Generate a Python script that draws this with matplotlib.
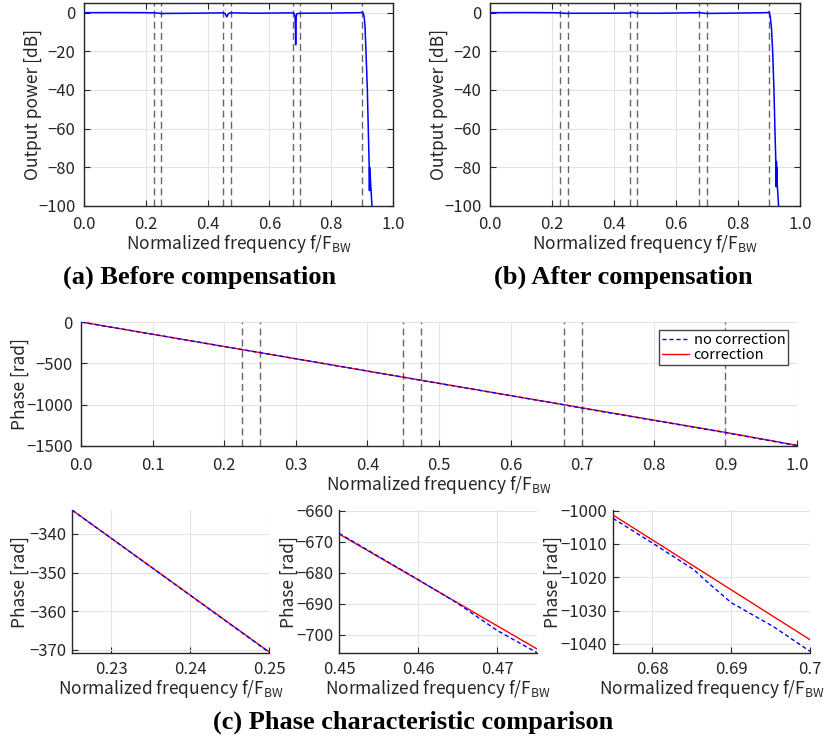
import numpy as np
import matplotlib
matplotlib.use('Agg')
import matplotlib.pyplot as plt

#-- fonts --
plt.rcParams['font.family'] = ['Noto Sans CJK JP', 'DejaVu Sans']
plt.rcParams['mathtext.fontset'] = 'custom'
plt.rcParams['mathtext.rm'] = 'Noto Sans CJK JP'
plt.rcParams['axes.unicode_minus'] = True

#-- data --
# band edges (dashed markers)
f_edges = [0.225, 0.25, 0.45, 0.475, 0.675, 0.7, 0.9]

# (a) output power before compensation
f_pow_a = [0.0, 0.1, 0.2, 0.225, 0.24, 0.25, 0.26, 0.35, 0.45, 0.456, 0.459, 0.462, 0.465, 0.468,
           0.475, 0.55, 0.675, 0.681, 0.683, 0.684, 0.685, 0.686, 0.687, 0.689, 0.7, 0.8, 0.895,
           0.902, 0.906, 0.909, 0.9126, 0.917, 0.920, 0.923, 0.9238, 0.9245, 0.925, 0.9255, 0.926,
           0.9265, 0.932]
p_a = [0.0, 0.05, 0.0, -0.1, -0.2, -0.5, -0.4, -0.3, -0.1, -0.4, -1.2, -2.2, -1.2, -0.4,
       -0.1, -0.3, -0.1, -0.5, -2.0, -6.0, -16.6, -6.0, -2.0, -0.5, -0.3, -0.2, 0.0,
       0.3, -1.5, -6.0, -20.0, -40.0, -60.0, -80.0, -92.0, -80.0, -90.0, -83.0, -88.0,
       -85.0, -100.0]

# (b) output power after compensation
f_pow_b = [0.0, 0.1, 0.2, 0.225, 0.25, 0.26, 0.35, 0.45, 0.46, 0.475, 0.55, 0.675, 0.7, 0.8,
           0.893, 0.9, 0.904, 0.908, 0.9118, 0.916, 0.919, 0.9226, 0.9232, 0.924, 0.9245, 0.925,
           0.9255, 0.931]
p_b = [0.0, 0.05, 0.0, -0.1, -0.4, -0.3, -0.3, -0.2, 0.2, -0.3, -0.3, 0.0, -0.4, -0.2,
       0.0, 0.3, -2.0, -8.0, -20.0, -40.0, -60.0, -80.0, -90.0, -77.0, -88.0, -80.0,
       -86.0, -100.0]

# (c) phase
f_ph = [0.0, 0.225, 0.25, 0.45, 0.475, 0.675, 0.7, 0.9, 1.0]
ph_corr = [0.0, -333.8, -370.5, -667.5, -704.5, -1001.3, -1038.7, -1335.0, -1492.0]
ph_nocorr = [0.0, -333.8, -370.6, -667.3, -705.7, -1002.3, -1042.2, -1338.0, -1495.0]

# zooms
f_z1 = [0.225, 0.25]
ph_z1_corr = [-333.8, -370.5]
ph_z1_nocorr = [-333.8, -370.6]
f_z2_corr = [0.45, 0.475]
ph_z2_corr = [-667.5, -704.5]
f_z2_nocorr = [0.45, 0.46, 0.4649, 0.47, 0.475]
ph_z2_nocorr = [-667.3, -682.2, -689.7, -698.6, -705.7]
f_z3_corr = [0.675, 0.7]
ph_z3_corr = [-1001.3, -1038.7]
f_z3_nocorr = [0.675, 0.68, 0.6852, 0.6873, 0.69, 0.6953, 0.7]
ph_z3_nocorr = [-1002.3, -1009.7, -1017.6, -1022.1, -1027.6, -1034.7, -1042.2]

#-- style --
W, H = 827., 744.
fs_tick = 12
fs_lab = 12.5
c_axis = '#262626'
c_grid = '#e3e3e3'
c_dash = '#666666'
xlab = r'Normalized frequency f/$\mathrm{F_{BW}}$'


def px_axes(fig, l, r, t, b):
    return fig.add_axes([l/W, 1-b/H, (r-l)/W, (b-t)/H])


def style(ax, box=True, xpad=5, ypad=5):
    ax.grid(True, color=c_grid, lw=0.8)
    ax.set_axisbelow(True)
    for s in ax.spines.values():
        s.set_color(c_axis)
        s.set_linewidth(1.0)
    if not box:
        ax.spines['top'].set_visible(False)
        ax.spines['right'].set_visible(False)
    ax.tick_params(direction='in', length=4, width=0.8, colors=c_axis,
                   labelsize=fs_tick, top=box, right=box, labelcolor='#262626')
    ax.tick_params(axis='x', pad=xpad)
    ax.tick_params(axis='y', pad=ypad)


def edges(ax):
    for fe in f_edges:
        ax.axvline(fe, color=c_dash, lw=1.0, ls=(0, (5, 3)), zorder=1)


fig = plt.figure(figsize=(W/100, H/100), dpi=100)

#-- (a) and (b) --
for l, r, fp, pp in [(84, 393, f_pow_a, p_a), (490, 800, f_pow_b, p_b)]:
    ax = px_axes(fig, l, r, 3, 206)
    style(ax, xpad=7, ypad=6)
    edges(ax)
    ax.plot(fp, pp, color='#0000ff', lw=1.1, zorder=3)
    ax.set_xlim(0, 1)
    ax.set_ylim(-100, 5)
    ax.set_xticks(np.arange(0, 1.01, 0.2))
    ax.set_xticklabels(['%.1f' % v for v in np.arange(0, 1.01, 0.2)])
    ax.set_yticks([0, -20, -40, -60, -80, -100])
    ax.set_xlabel(xlab, fontsize=fs_lab, color='#262626', labelpad=0)
    ax.set_ylabel('Output power [dB]', fontsize=fs_lab, color='#262626', labelpad=-3)

#-- (c) main --
ax = px_axes(fig, 81, 797, 322, 446)
style(ax, box=False, xpad=8, ypad=6)
edges(ax)
ax.plot(f_ph, ph_corr, color='#ff0000', lw=1.0, label='correction', zorder=3)
ax.plot(f_ph, ph_nocorr, color='#0000ff', lw=1.0, ls=(0, (3, 2)), label='no correction', zorder=4)
h, lb = ax.get_legend_handles_labels()
ax.set_xlim(0, 1)
ax.set_ylim(-1500, 0)
ax.set_xticks(np.arange(0, 1.01, 0.1))
ax.set_xticklabels(['%.1f' % v for v in np.arange(0, 1.01, 0.1)])
ax.set_yticks([0, -500, -1000, -1500])
ax.set_xlabel(xlab, fontsize=fs_lab, color='#262626', labelpad=0)
ax.set_ylabel('Phase [rad]', fontsize=fs_lab, color='#262626', labelpad=-2)
leg = ax.legend(h[::-1], lb[::-1], loc='upper right', bbox_to_anchor=(0.988, 0.935), fontsize=10.5,
                frameon=True, fancybox=False, edgecolor='#444444', framealpha=1,
                handlelength=1.9, handletextpad=0.3, borderpad=0.2, labelspacing=0.05,
                borderaxespad=0)
leg.get_frame().set_linewidth(1.0)

#-- (c) zooms --
zooms = [
    (72, 269, f_z1, ph_z1_nocorr, f_z1, ph_z1_corr, (0.225, 0.25), (-370.8, -333.8),
     [0.23, 0.24, 0.25], ['0.23', '0.24', '0.25'], [-340, -350, -360, -370], 0),
    (339, 537, f_z2_nocorr, ph_z2_nocorr, f_z2_corr, ph_z2_corr, (0.45, 0.475), (-705.8, -659.8),
     [0.45, 0.46, 0.47], ['0.45', '0.46', '0.47'], [-660, -670, -680, -690, -700], -1),
    (613, 810, f_z3_nocorr, ph_z3_nocorr, f_z3_corr, ph_z3_corr, (0.675, 0.7), (-1042.7, -999.8),
     [0.68, 0.69, 0.7], ['0.68', '0.69', '0.7'], [-1000, -1010, -1020, -1030, -1040], -1),
]
for l, r, fb, pb, fr, pr, xl, yl, xt, xtl, yt, ylp in zooms:
    ax = px_axes(fig, l, r, 510, 653)
    style(ax, box=False, xpad=6, ypad=4)
    ax.plot(fr, pr, color='#ff0000', lw=1.0, zorder=3)
    ax.plot(fb, pb, color='#0000ff', lw=1.0, ls=(0, (3, 2)), zorder=4)
    ax.set_xlim(*xl)
    ax.set_ylim(*yl)
    ax.set_xticks(xt)
    ax.set_xticklabels(xtl)
    ax.set_yticks(yt)
    ax.set_xlabel(xlab, fontsize=fs_lab, color='#262626', labelpad=0)
    ax.set_ylabel('Phase [rad]', fontsize=fs_lab, color='#262626', labelpad=ylp)

#-- captions --
cap = dict(family='Liberation Serif', fontweight='bold', fontsize=19, ha='center', va='center')
fig.text(200/W, 1-277/H, '(a) Before compensation', **cap)
fig.text(623/W, 1-277/H, '(b) After compensation', **cap)
fig.text(413/W, 1-722/H, '(c) Phase characteristic comparison', **cap)

fig.savefig('out.png', dpi=100)
